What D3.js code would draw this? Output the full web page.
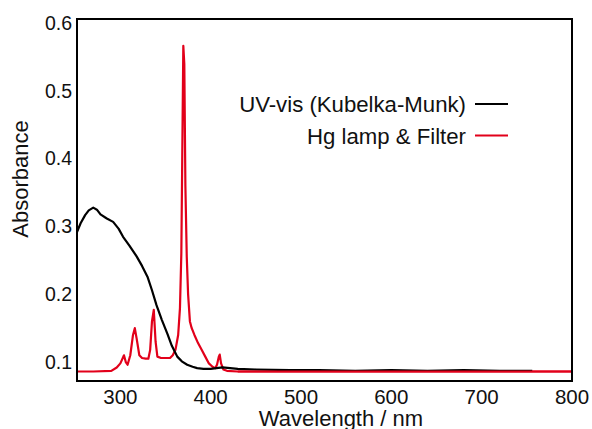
<!DOCTYPE html>
<html>
<head>
<meta charset="utf-8">
<script src="https://cdn.jsdelivr.net/npm/d3@7"></script>
<style>
  body { margin: 0; background: #fff; }
  text { font-family: "Liberation Sans", Arial, sans-serif; fill: #111; }
</style>
</head>
<body>
<div id="chart"></div>
<script>
// UV-vis (Kubelka-Munk) spectrum
var uvWavelength = [252, 256, 261, 265, 270, 274, 278, 285, 292, 298, 303, 310, 318, 324, 330, 335, 340, 346, 352, 357, 363, 368, 374, 380, 385, 392, 400, 413, 430, 450, 488, 520, 560, 600, 640, 680, 720, 756];
var uvValue = [0.292, 0.305, 0.317, 0.324, 0.328, 0.325, 0.318, 0.312, 0.307, 0.297, 0.285, 0.272, 0.256, 0.242, 0.226, 0.206, 0.184, 0.162, 0.142, 0.124, 0.108, 0.101, 0.096, 0.093, 0.091, 0.090, 0.090, 0.092, 0.090, 0.089, 0.088, 0.088, 0.087, 0.088, 0.087, 0.088, 0.087, 0.087];

// Hg lamp & Filter emission
var hgWavelength = [252, 270, 290, 296, 300, 302, 304, 306, 308, 311, 314, 316, 318, 321, 324, 328, 331, 333, 335, 337, 339, 341, 345, 350, 355, 358, 361, 364, 366, 367.5, 368.5, 369.7, 370.8, 372, 373.5, 375, 377, 379, 382, 386, 390, 394, 398, 402, 405, 407, 409, 410, 411.5, 414, 418, 430, 460, 500, 550, 600, 650, 700, 750, 800];
var hgValue = [0.086, 0.086, 0.087, 0.092, 0.098, 0.104, 0.110, 0.100, 0.096, 0.110, 0.140, 0.150, 0.135, 0.110, 0.106, 0.105, 0.105, 0.118, 0.160, 0.177, 0.130, 0.108, 0.106, 0.106, 0.106, 0.110, 0.118, 0.140, 0.180, 0.260, 0.400, 0.567, 0.540, 0.360, 0.256, 0.200, 0.160, 0.150, 0.140, 0.128, 0.118, 0.108, 0.098, 0.093, 0.091, 0.096, 0.108, 0.111, 0.098, 0.089, 0.087, 0.086, 0.086, 0.086, 0.086, 0.086, 0.086, 0.086, 0.086, 0.086];

var xTicks = [300, 400, 500, 600, 700, 800];
var yTicks = [0.1, 0.2, 0.3, 0.4, 0.5, 0.6];

var width = 592;
var height = 429;
var margin = { top: 19, right: 20, bottom: 48, left: 77 };

var svg = d3.select('#chart')
    .append('svg')
    .attr('width', width)
    .attr('height', height);

var x = d3.scaleLinear()
    .domain([252, 800])
    .range([margin.left, width - margin.right]);

var y = d3.scaleLinear()
    .domain([0.072, 0.6066])
    .range([height - margin.bottom, margin.top]);

// Tick labels (no tick marks in the original)
svg.append('g')
    .selectAll('text')
    .data(xTicks)
    .join('text')
    .attr('x', d => x(d))
    .attr('y', 404)
    .attr('text-anchor', 'middle')
    .attr('font-size', '20.5px')
    .text(d => d);

svg.append('g')
    .selectAll('text')
    .data(yTicks)
    .join('text')
    .attr('x', 72)
    .attr('y', d => y(d) + 6.5)
    .attr('text-anchor', 'end')
    .attr('font-size', '19.5px')
    .text(d => d3.format('.1f')(d));

// Axis titles
svg.append('text')
    .attr('x', 341)
    .attr('y', 426)
    .attr('text-anchor', 'middle')
    .attr('font-size', '22px')
    .text('Wavelength / nm');

svg.append('text')
    .attr('transform', 'translate(28, 179) rotate(-90)')
    .attr('text-anchor', 'middle')
    .attr('font-size', '22px')
    .text('Absorbance');

// Spectra
var line = d3.line()
    .x(d => x(d[0]))
    .y(d => y(d[1]));

svg.append('path')
    .datum(d3.zip(hgWavelength, hgValue))
    .attr('fill', 'none')
    .attr('stroke', '#e2001a')
    .attr('stroke-width', 2.2)
    .attr('stroke-linejoin', 'round')
    .attr('d', line);

svg.append('path')
    .datum(d3.zip(uvWavelength, uvValue))
    .attr('fill', 'none')
    .attr('stroke', '#000')
    .attr('stroke-width', 2.2)
    .attr('stroke-linejoin', 'round')
    .attr('d', line);

// Red drawn on top in the low flat region
svg.append('path')
    .datum(d3.zip(hgWavelength, hgValue).filter(d => d[0] >= 430))
    .attr('fill', 'none')
    .attr('stroke', '#e2001a')
    .attr('stroke-width', 2.2)
    .attr('d', line);

// Frame
svg.append('rect')
    .attr('x', margin.left)
    .attr('y', margin.top)
    .attr('width', width - margin.left - margin.right)
    .attr('height', height - margin.top - margin.bottom)
    .attr('fill', 'none')
    .attr('stroke', '#000')
    .attr('stroke-width', 2);

// Legend
var legend = [
    { label: 'UV-vis (Kubelka-Munk)', color: '#000', y: 104 },
    { label: 'Hg lamp & Filter', color: '#e2001a', y: 135.5 }
];

var lg = svg.append('g')
    .selectAll('g')
    .data(legend)
    .join('g');

lg.append('text')
    .attr('x', 466)
    .attr('y', d => d.y + 8)
    .attr('text-anchor', 'end')
    .attr('font-size', '22.2px')
    .text(d => d.label);

lg.append('line')
    .attr('x1', 475)
    .attr('x2', 508)
    .attr('y1', d => d.y)
    .attr('y2', d => d.y)
    .attr('stroke', d => d.color)
    .attr('stroke-width', 2.2);
</script>
</body>
</html>
